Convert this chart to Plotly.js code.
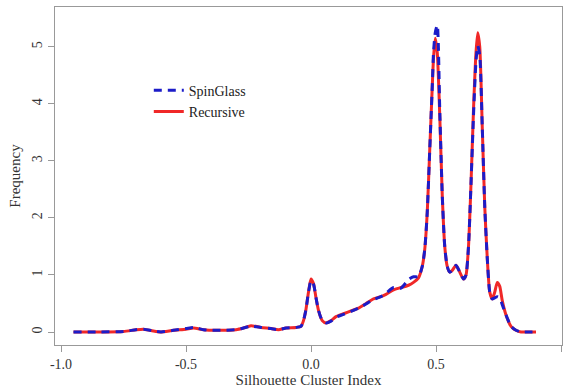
<!DOCTYPE html>
<html>
<head>
<meta charset="utf-8">
<script src="https://cdn.plot.ly/plotly-3.0.1.min.js"></script>
<style>html,body{margin:0;padding:0;background:#fff;}#chart{width:568px;height:388px;}</style>
</head>
<body>
<div id="chart"></div>
<script>
const xs = [-0.95,-0.85,-0.75,-0.7,-0.67,-0.62,-0.6,-0.55,-0.5,-0.47,-0.43,-0.38,-0.3,-0.27,-0.24,-0.2,-0.16,-0.13,-0.1,-0.06,-0.04,-0.03,-0.02,-0.01,0.0,0.01,0.02,0.03,0.045,0.06,0.08,0.1,0.13,0.16,0.19,0.22,0.25,0.28,0.3,0.33,0.36,0.39,0.41,0.43,0.445,0.455,0.465,0.475,0.485,0.49,0.497,0.505,0.515,0.525,0.535,0.545,0.555,0.565,0.58,0.595,0.61,0.62,0.63,0.64,0.65,0.66,0.667,0.675,0.685,0.695,0.705,0.715,0.725,0.735,0.745,0.755,0.765,0.78,0.8,0.82,0.84,0.87,0.9];
const recursive = [0,0,0.01,0.04,0.05,0.01,0.0,0.03,0.05,0.07,0.04,0.03,0.04,0.07,0.11,0.08,0.06,0.04,0.07,0.08,0.1,0.2,0.4,0.7,0.93,0.85,0.6,0.38,0.2,0.16,0.2,0.27,0.32,0.37,0.42,0.5,0.58,0.62,0.66,0.74,0.78,0.82,0.87,0.95,1.15,1.45,2.1,3.2,4.3,4.8,5.15,4.9,3.8,2.4,1.5,1.15,1.05,1.08,1.17,1.05,0.93,1.0,1.5,2.6,3.9,4.9,5.25,5.0,3.6,2.2,1.3,0.7,0.58,0.7,0.87,0.8,0.55,0.3,0.1,0.03,0.0,0.0,0.0];
const spinglass = [0,0,0.01,0.04,0.05,0.01,0.0,0.03,0.06,0.08,0.04,0.03,0.04,0.07,0.1,0.08,0.06,0.04,0.07,0.08,0.1,0.2,0.4,0.7,0.9,0.84,0.6,0.38,0.2,0.16,0.19,0.26,0.31,0.36,0.42,0.49,0.57,0.62,0.68,0.78,0.77,0.92,0.97,0.97,1.15,1.45,2.1,3.2,4.3,4.9,5.25,5.38,3.9,2.4,1.5,1.15,1.05,1.08,1.17,1.05,0.93,1.0,1.5,2.6,3.8,4.75,5.02,4.85,3.6,2.2,1.3,0.7,0.58,0.6,0.62,0.6,0.48,0.3,0.1,0.03,0.0,0.0,0.0];
const xTickVals = [-1.0,-0.5,0.0,0.5,1.0];
const xTickText = ["-1.0","-0.5","0.0","0.5","1.0"];
const yTickVals = [0,1,2,3,4,5];
const yTickText = ["0","1","2","3","4","5"];

const fam = '"Liberation Serif", "DejaVu Serif", serif';

const traces = [
  {x: xs, y: recursive, name: 'Recursive', type: 'scatter', mode: 'lines',
   line: {color: '#f02828', width: 3, shape: 'spline', smoothing: 0.6}, legendrank: 2},
  {x: xs, y: spinglass, name: 'SpinGlass', type: 'scatter', mode: 'lines',
   line: {color: '#1c1cc8', width: 3, dash: '8px,6px', shape: 'spline', smoothing: 0.6}, legendrank: 1}
];

const layout = {
  width: 568, height: 388,
  margin: {l: 55, r: 6, t: 7, b: 43},
  paper_bgcolor: '#fff', plot_bgcolor: '#fff',
  font: {family: fam, size: 14, color: '#333'},
  showlegend: true,
  legend: {x: 0.185, y: 0.80, xanchor: 'left', yanchor: 'top', bgcolor: 'rgba(0,0,0,0)',
           font: {family: fam, size: 14, color: '#222'}, tracegroupgap: 0},
  xaxis: {range: [-1.024, 1.004], tickvals: xTickVals, ticktext: xTickText,
          showgrid: false, zeroline: false, showline: true, mirror: true,
          linecolor: '#999', linewidth: 1, ticks: 'outside', ticklen: 6, tickcolor: '#999',
          tickfont: {family: fam, size: 14, color: '#333'},
          title: {text: 'Silhouette Cluster Index', font: {family: fam, size: 15, color: '#333'}, standoff: 4}},
  yaxis: {range: [-0.228, 5.70], tickvals: yTickVals, ticktext: yTickText, tickangle: -90,
          showgrid: false, zeroline: false, showline: true, mirror: true,
          linecolor: '#999', linewidth: 1, ticks: 'outside', ticklen: 6, tickcolor: '#999',
          tickfont: {family: fam, size: 14, color: '#333'},
          title: {text: 'Frequency', font: {family: fam, size: 15, color: '#333'}, standoff: 6}}
};

Plotly.newPlot('chart', traces, layout, {displayModeBar: false, staticPlot: true});
</script>
</body>
</html>
